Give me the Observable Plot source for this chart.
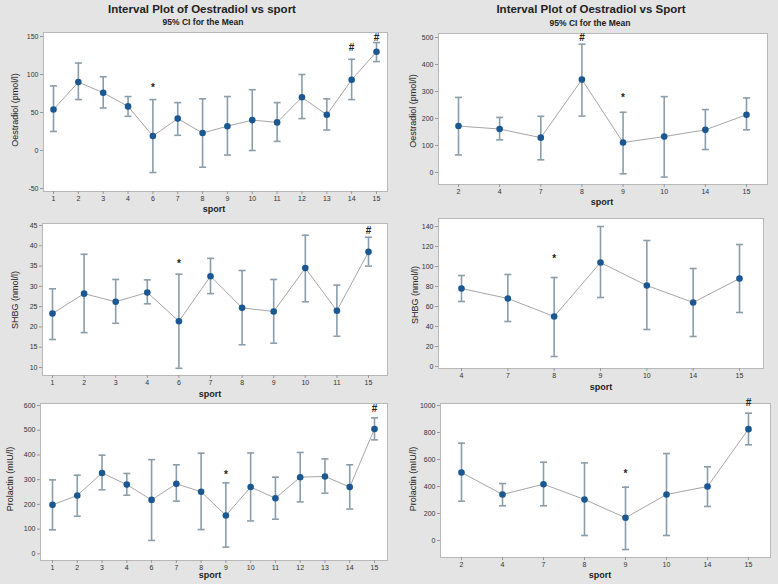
<!DOCTYPE html>
<html><head><meta charset="utf-8">
<script src="https://cdn.jsdelivr.net/npm/d3@7"></script>
<script src="https://cdn.jsdelivr.net/npm/@observablehq/plot@0.6"></script>
<style>
body{margin:0;background:#e4e4e4;}
#chart{position:relative;width:778px;height:584px;background:#e4e4e4;overflow:hidden;font-family:'Liberation Sans',Arial,sans-serif;color:#222;}
.t{position:absolute;white-space:nowrap;transform:translate(-50%,-50%);line-height:1;}
.title{font-size:11.5px;font-weight:bold;}
.sub{font-size:8.5px;font-weight:bold;}
.xl{font-size:9px;font-weight:bold;}
.yl{font-size:9px;transform:translate(-50%,-50%) rotate(-90deg);}
#chart svg{position:absolute;}
</style></head><body><div id="chart"></div><script>
// ---- Data ----
const sportsAll = ["1","2","3","4","6","7","8","9","10","11","12","13","14","15"];
const oestradiolMeanA = [54, 90, 76, 58, 19, 42, 23, 32, 40, 37, 70, 47, 93, 130];
const oestradiolLowA  = [25, 67, 56, 45, -29, 20, -22, -6, 0, 12, 42, 27, 67, 117];
const oestradiolHighA = [85, 115, 97, 71, 67, 63, 68, 71, 80, 63, 100, 68, 120, 142];
const oestradiolNoteSportA = ["6","14","15"];
const oestradiolNoteYA = [83, 135, 148];
const oestradiolNoteA = ["*","#","#"];

const sportsSub = ["2","4","7","8","9","10","14","15"];
const oestradiolMeanB = [172, 161, 129, 344, 111, 133, 158, 214];
const oestradiolLowB  = [65, 121, 47, 209, -5, -17, 85, 158];
const oestradiolHighB = [278, 204, 208, 475, 223, 281, 233, 276];
const oestradiolNoteSportB = ["8","9"];
const oestradiolNoteYB = [500, 278];
const oestradiolNoteB = ["#","*"];

const sportsShbgA = ["1","2","3","4","6","7","8","9","10","11","15"];
const shbgMeanA = [23.3, 28.2, 26.2, 28.5, 21.4, 32.5, 24.7, 23.8, 34.5, 24.0, 38.5];
const shbgLowA  = [16.9, 18.6, 20.9, 25.7, 9.8, 28.2, 15.6, 16.0, 26.2, 17.7, 35.0];
const shbgHighA = [29.4, 37.9, 31.7, 31.6, 33.0, 36.9, 33.9, 31.7, 42.6, 30.3, 42.1];
const shbgNoteSportA = ["6","15"];
const shbgNoteYA = [35.5, 43.7];
const shbgNoteA = ["*","#"];

const sportsShbgB = ["4","7","8","9","10","14","15"];
const shbgMeanB = [78, 68, 50, 104, 81, 64, 88];
const shbgLowB  = [65, 45, 10, 69, 37, 30, 54];
const shbgHighB = [91, 92, 89, 140, 126, 98, 122];
const shbgNoteSportB = ["8"];
const shbgNoteYB = [108];
const shbgNoteB = ["*"];

const prolactinMeanA = [198, 236, 327, 280, 218, 283, 251, 155, 270, 225, 310, 313, 270, 505];
const prolactinLowA  = [97, 152, 259, 237, 54, 213, 98, 27, 133, 140, 210, 245, 181, 461];
const prolactinHighA = [299, 318, 399, 325, 381, 360, 407, 287, 408, 310, 410, 384, 360, 550];
const prolactinNoteSportA = ["9","15"];
const prolactinNoteYA = [320, 585];
const prolactinNoteA = ["*","#"];

const prolactinMeanB = [504, 341, 417, 304, 168, 341, 400, 825];
const prolactinLowB  = [291, 257, 257, 37, -67, 37, 252, 709];
const prolactinHighB = [721, 422, 580, 575, 395, 644, 546, 943];
const prolactinNoteSportB = ["9","15"];
const prolactinNoteYB = [491, 1017];
const prolactinNoteB = ["*","#"];

// ---- Drawing ----
const chart = document.getElementById("chart");
const FONT = "'Liberation Sans', Arial, sans-serif";
const capSymbol = {draw(ctx, size){ const w = Math.sqrt(size/Math.PI); ctx.moveTo(-w,0); ctx.lineTo(w,0); }};
const barColor = "#8a9dab";

function addText(cls, txt, x, y){
  const d = document.createElement("div");
  d.className = "t " + cls; d.textContent = txt;
  d.style.left = x + "px"; d.style.top = y + "px";
  chart.appendChild(d);
}

function panel(cfg){
  const [x0,x1,y0,y1] = cfg.frame;
  const [v1,p1,v2,p2] = cfg.yRef;
  const [xa,xb] = cfg.xEnds;
  const mL=40, mR=8, mT=12, mB=16;
  const left=x0-mL, top=y0-mT, width=x1-x0+mL+mR, height=y1-y0+mT+mB;
  const k=(p2-p1)/(v2-v1);
  const yDom=[v1+(y1-p1)/k, v1+(y0-p1)/k];
  const rows = cfg.cats.map((c,i)=>({sport:c, mean:cfg.mean[i], lo:cfg.lo[i], hi:cfg.hi[i]}));
  const notes = cfg.noteCats.map((c,i)=>({sport:c, y:cfg.noteY[i], s:cfg.note[i]}));
  const svg = Plot.plot({
    width, height, marginLeft:mL, marginRight:mR, marginTop:mT, marginBottom:mB,
    style:{background:"transparent", fontFamily:FONT, overflow:"visible"},
    x:{type:"point", domain:cfg.cats, range:[xa-left, xb-left], padding:0, round:false},
    y:{domain:yDom},
    marks:[
      Plot.frame({fill:"white", stroke:"#b8b8b8"}),
      Plot.axisY({ticks:cfg.ticks, tickFormat:d=>String(d), tickSize:3, tickPadding:2, fontSize:7, label:null, stroke:"#999", fill:"#333"}),
      Plot.axisX({tickSize:3, tickPadding:1.5, fontSize:7, label:null, stroke:"#999", fill:"#333"}),
      Plot.line(rows,{x:"sport", y:"mean", stroke:"#a6a6a6", strokeWidth:1}),
      Plot.ruleX(rows,{x:"sport", y1:"lo", y2:"hi", stroke:barColor, strokeWidth:1.6}),
      Plot.dot(rows,{x:"sport", y:"lo", symbol:capSymbol, r:3.5, stroke:barColor, strokeWidth:1.6, fill:"none"}),
      Plot.dot(rows,{x:"sport", y:"hi", symbol:capSymbol, r:3.5, stroke:barColor, strokeWidth:1.6, fill:"none"}),
      Plot.dot(rows,{x:"sport", y:"mean", r:3.3, fill:"#1b5790", stroke:"none"}),
      Plot.text(notes,{x:"sport", y:"y", text:"s", fontSize:10, fontWeight:"bold", fill:"#222"})
    ]
  });
  svg.style.left = left + "px"; svg.style.top = top + "px";
  chart.appendChild(svg);
  addText("xl", "sport", cfg.xLabel[0], cfg.xLabel[1]);
  addText("yl", cfg.yLabel, cfg.yLabelPos[0], cfg.yLabelPos[1]);
}

panel({frame:[43,387,32,191], yRef:[150,36,-50,188], xEnds:[53,376],
  cats:sportsAll, mean:oestradiolMeanA, lo:oestradiolLowA, hi:oestradiolHighA,
  ticks:[-50,0,50,100,150], noteCats:oestradiolNoteSportA, noteY:oestradiolNoteYA, note:oestradiolNoteA,
  xLabel:[214,209], yLabel:"Oestradiol (pmol/l)", yLabelPos:[15,110]});
panel({frame:[438,767,33,184], yRef:[500,37,0,172], xEnds:[458,746],
  cats:sportsSub, mean:oestradiolMeanB, lo:oestradiolLowB, hi:oestradiolHighB,
  ticks:[0,100,200,300,400,500], noteCats:oestradiolNoteSportB, noteY:oestradiolNoteYB, note:oestradiolNoteB,
  xLabel:[602,202], yLabel:"Oestradiol (pmol/l)", yLabelPos:[413,111]});
panel({frame:[42,387,223,375], yRef:[45,225,10,367], xEnds:[52,368],
  cats:sportsShbgA, mean:shbgMeanA, lo:shbgLowA, hi:shbgHighA,
  ticks:[10,15,20,25,30,35,40,45], noteCats:shbgNoteSportA, noteY:shbgNoteYA, note:shbgNoteA,
  xLabel:[210,394], yLabel:"SHBG (nmol/l)", yLabelPos:[15,300]});
panel({frame:[438,763,218,368], yRef:[140,226,0,366], xEnds:[461,739],
  cats:sportsShbgB, mean:shbgMeanB, lo:shbgLowB, hi:shbgHighB,
  ticks:[0,20,40,60,80,100,120,140], noteCats:shbgNoteSportB, noteY:shbgNoteYB, note:shbgNoteB,
  xLabel:[601,387], yLabel:"SHBG (nmol/l)", yLabelPos:[415,295]});
panel({frame:[40,387,403,560], yRef:[600,405,0,553.3], xEnds:[52,374],
  cats:sportsAll, mean:prolactinMeanA, lo:prolactinLowA, hi:prolactinHighA,
  ticks:[0,100,200,300,400,500,600], noteCats:prolactinNoteSportA, noteY:prolactinNoteYA, note:prolactinNoteA,
  xLabel:[210,575], yLabel:"Prolactin (mIU/l)", yLabelPos:[10,479]});
panel({frame:[440,770,403,557], yRef:[1000,405,0,540], xEnds:[461,748],
  cats:sportsSub, mean:prolactinMeanB, lo:prolactinLowB, hi:prolactinHighB,
  ticks:[0,200,400,600,800,1000], noteCats:prolactinNoteSportB, noteY:prolactinNoteYB, note:prolactinNoteB,
  xLabel:[600,575], yLabel:"Prolactin (mIU/l)", yLabelPos:[413,479]});

addText("title", "Interval Plot of Oestradiol vs sport", 202, 10);
addText("sub", "95% CI for the Mean", 203, 22);
addText("title", "Interval Plot of Oestradiol vs Sport", 591, 10);
addText("sub", "95% CI for the Mean", 590, 23);
</script></body></html>
